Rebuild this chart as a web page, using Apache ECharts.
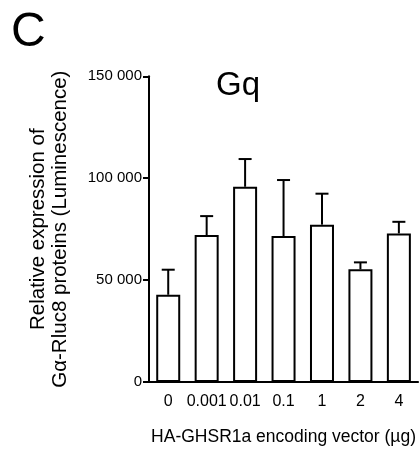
<!DOCTYPE html>
<html>
<head>
<meta charset="utf-8">
<script src="https://cdn.jsdelivr.net/npm/echarts@6/dist/echarts.min.js"></script>
<style>
  html, body { margin: 0; padding: 0; background: #fff; }
  #chart { width: 419px; height: 451px; }
</style>
</head>
<body>
<div id="chart"></div>
<script>
// Gq luminescence per amount of HA-GHSR1a vector transfected (mean + upper error)
const categories = ['0', '0.001', '0.01', '0.1', '1', '2', '4'];
const means = [42800, 72100, 95800, 71600, 77200, 55300, 72900];
const errors = [12300, 9300, 13600, 27500, 15200, 3400, 5700];
const yTicks = [0, 50000, 100000, 150000];

const FONT = '"Liberation Sans", Arial, Helvetica, sans-serif';

const chart = echarts.init(document.getElementById('chart'), null, { renderer: 'canvas' });

function spaced(v) {
  return String(v).replace(/\B(?=(\d{3})+(?!\d))/g, ' ');
}

const option = {
  animation: false,
  backgroundColor: '#ffffff',
  graphic: [
    {
      type: 'text', left: 11, top: 9,
      style: { text: 'C', font: '48px ' + FONT, fill: '#000' }
    },
    {
      type: 'text', left: 216, top: 69,
      style: { text: 'Gq', font: '33px ' + FONT, fill: '#000' }
    }
  ],
  grid: { left: 149, right: 0, top: 76.3, height: 312, containLabel: false },
  xAxis: {
    type: 'category',
    data: categories,
    name: 'HA-GHSR1a encoding vector (µg)',
    nameLocation: 'middle',
    nameGap: 46,
    nameTextStyle: { fontFamily: FONT, fontSize: 17.5, color: '#000' },
    axisLine: { lineStyle: { color: '#000', width: 2 } },
    axisTick: { alignWithLabel: true, length: 5, lineStyle: { color: '#000', width: 2 } },
    axisLabel: { interval: 0, margin: 12, fontFamily: FONT, fontSize: 16, color: '#000' }
  },
  yAxis: {
    type: 'value',
    min: yTicks[0],
    max: yTicks[yTicks.length - 1],
    interval: yTicks[1] - yTicks[0],
    name: 'Relative expression of\nGα-Rluc8 proteins (Luminescence)',
    nameLocation: 'middle',
    nameGap: 78,
    nameRotate: 90,
    nameTextStyle: { fontFamily: FONT, fontSize: 20.5, lineHeight: 22, color: '#000' },
    axisLine: { show: true, lineStyle: { color: '#000', width: 2 } },
    axisTick: { show: true, length: 6, lineStyle: { color: '#000', width: 2 } },
    axisLabel: { margin: 7, fontFamily: FONT, fontSize: 15, color: '#000', formatter: spaced },
    splitLine: { show: false }
  },
  series: [
    {
      type: 'bar',
      data: means,
      barWidth: 24,
      itemStyle: { color: '#fff', borderColor: '#000', borderWidth: 2 },
      z: 2
    },
    {
      type: 'custom',
      data: means.map((m, i) => [i, m, m + errors[i]]),
      renderItem: function (params, api) {
        const base = api.coord([api.value(0), api.value(1)]);
        const top = api.coord([api.value(0), api.value(2)]);
        const half = 6.5;
        const style = { stroke: '#000', lineWidth: 2, fill: null };
        return {
          type: 'group',
          children: [
            { type: 'line', shape: { x1: base[0], y1: base[1], x2: top[0], y2: top[1] }, style: style },
            { type: 'line', shape: { x1: top[0] - half, y1: top[1], x2: top[0] + half, y2: top[1] }, style: style }
          ]
        };
      },
      z: 3
    }
  ]
};

chart.setOption(option);
</script>
</body>
</html>
